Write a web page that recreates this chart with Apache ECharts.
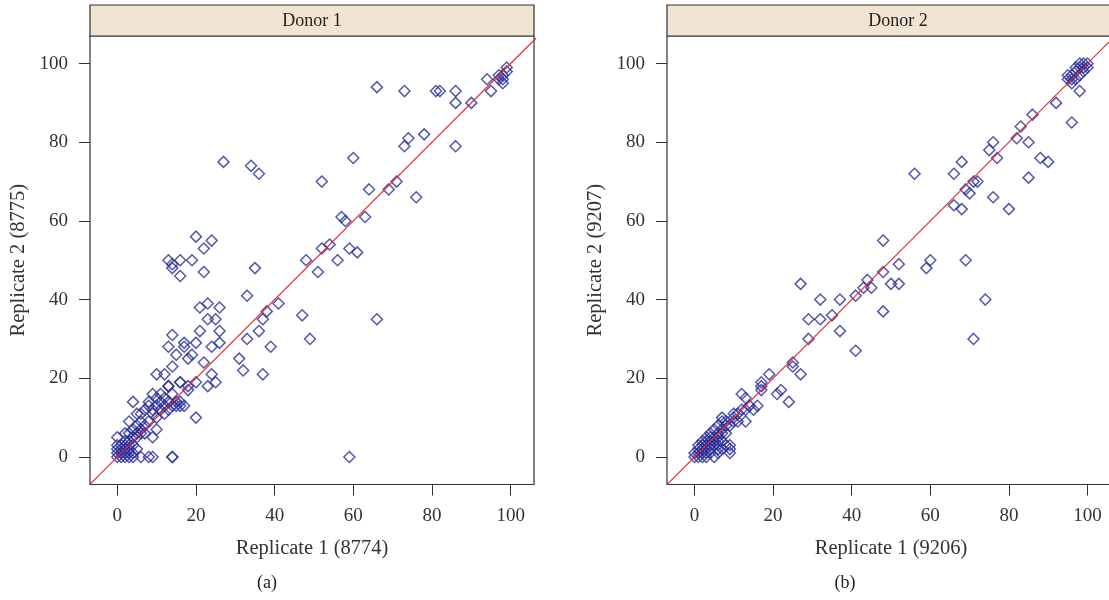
<!DOCTYPE html>
<html>
<head>
<meta charset="utf-8">
<script src="https://cdn.jsdelivr.net/npm/echarts@6/dist/echarts.min.js"></script>
<style>
  html, body { margin: 0; padding: 0; background: #fff; }
  #chart { width: 1109px; height: 600px; }
</style>
</head>
<body>
<div id="chart"></div>
<script>
// panel titles / axis names
const panelTitles = ['Donor 1', 'Donor 2']
const xNames = ['Replicate 1 (8774)', 'Replicate 1 (9206)']
const yNames = ['Replicate 2 (8775)', 'Replicate 2 (9207)']
const subLabels = ['(a)', '(b)']
const tickValues = [0, 20, 40, 60, 80, 100]

// Donor 1: [replicate 1, replicate 2]
const donor1 = [
  [27, 75], [34, 74], [36, 72], [20, 56], [24, 55], [22, 53], [13, 50], [16, 50], [19, 50], [48, 50],
  [14, 49], [14, 48], [16, 46], [22, 47], [35, 48], [33, 41], [41, 39], [38, 37], [37, 35], [36, 32],
  [33, 30], [39, 28], [31, 25], [32, 22], [37, 21], [47, 36], [49, 30], [21, 38], [23, 39], [26, 38],
  [23, 35], [25, 35], [21, 32], [26, 32], [14, 31], [17, 29], [17, 28], [20, 29], [13, 28], [24, 28],
  [26, 29], [15, 26], [19, 26], [18, 25], [22, 24], [14, 23], [10, 21], [12, 21], [24, 21], [25, 19],
  [23, 18], [16, 19], [18, 18], [20, 19], [13, 18], [4, 14], [20, 10],
  [66, 94], [73, 93], [81, 93], [82, 93], [86, 93], [86, 90], [90, 90], [94, 96], [95, 93], [97, 96],
  [98, 95], [98, 97], [99, 98], [99, 99], [97, 97], [98, 96], [74, 81], [73, 79], [78, 82], [86, 79],
  [60, 76], [52, 70], [64, 68], [69, 68], [71, 70], [76, 66], [57, 61], [58, 60], [63, 61], [52, 53],
  [54, 54], [59, 53], [61, 52], [56, 50], [51, 47], [66, 35], [59, 0],
  [0, 0], [0, 1], [1, 0], [1, 1], [0, 2], [1, 2], [2, 1], [2, 2], [0, 3], [1, 3], [2, 3], [3, 2],
  [3, 3], [0, 5], [2, 4], [3, 4], [4, 3], [4, 5], [2, 6], [3, 6], [4, 7], [5, 6], [5, 8], [6, 6],
  [6, 7], [3, 9], [5, 5], [7, 6], [7, 8], [8, 9], [6, 9], [2, 0], [3, 0], [4, 0], [6, 0], [8, 0],
  [9, 0], [14, 0], [14, 0], [9, 5], [10, 7], [10, 10], [9, 11], [6, 11], [5, 11], [7, 12], [8, 13],
  [9, 12], [10, 13], [11, 14], [12, 13], [13, 14], [14, 13], [15, 13], [16, 13], [17, 13], [11, 12],
  [12, 11], [13, 12], [9, 16], [11, 16], [13, 18], [16, 19], [18, 17], [8, 14], [10, 15], [12, 15],
  [14, 16], [15, 14], [16, 14], [5, 2], [3, 1], [4, 1]
]

// Donor 2: [replicate 1, replicate 2]
const donor2 = [
  [27, 44], [32, 40], [37, 40], [29, 35], [32, 35], [35, 36], [37, 32], [29, 30], [41, 27], [41, 41],
  [43, 43], [44, 45], [45, 43], [25, 24], [25, 23], [27, 21], [19, 21], [17, 19], [17, 17], [22, 17],
  [21, 16], [24, 14], [12, 16], [16, 13], [13, 9],
  [95, 96], [96, 97], [97, 98], [98, 99], [99, 100], [100, 99], [96, 95], [97, 96], [98, 97], [99, 98],
  [98, 100], [99, 99], [96, 96], [97, 99], [95, 97], [100, 100], [98, 93], [92, 90], [96, 85], [86, 87],
  [83, 84], [82, 81], [85, 80], [76, 80], [75, 78], [77, 76], [88, 76], [90, 75], [85, 71], [68, 75],
  [66, 72], [56, 72], [71, 70], [72, 70], [69, 68], [70, 67], [76, 66], [66, 64], [68, 63], [80, 63],
  [48, 55], [60, 50], [69, 50], [59, 48], [52, 49], [48, 47], [50, 44], [52, 44], [48, 37], [74, 40],
  [71, 30],
  [0, 0], [0, 1], [1, 0], [1, 1], [1, 2], [2, 1], [2, 2], [2, 3], [3, 2], [3, 3], [3, 4], [4, 3],
  [4, 4], [2, 0], [3, 1], [4, 2], [5, 3], [5, 5], [4, 5], [5, 4], [6, 5], [6, 6], [5, 7], [6, 8],
  [7, 6], [7, 7], [7, 9], [8, 8], [8, 6], [6, 3], [7, 4], [8, 3], [9, 3], [9, 2], [9, 1], [5, 0],
  [3, 0], [4, 1], [2, 4], [1, 3], [6, 4], [7, 10], [8, 9], [10, 9], [11, 9], [10, 10], [11, 11],
  [12, 12], [13, 12], [13, 15], [15, 12], [14, 13], [17, 18], [10, 11], [9, 8], [6, 1], [7, 2],
  [4, 6], [3, 5], [6, 2]
]

// y = x reference line, clipped to the panel
const identityLine = [[-10, -10], [110, 110]]

const FONT = 'Liberation Serif'
const INK = '#333'
const POINT = '#2b2f99'

const grids = [
  { left: 90, top: 36, width: 444, height: 448.5 },
  { left: 667, top: 36, width: 448, height: 448.5 },
]
const xRanges = [[-6.93, 105.93], [-7, 107]]
const yRange = [-7, 107]
const stripTextX = [312, 898]

function axisCommon(i) {
  return {
    type: 'value',
    gridIndex: i,
    axisLine: { show: false, onZero: false },
    axisTick: { show: true, length: 11, customValues: tickValues, lineStyle: { color: INK, width: 1 } },
    axisLabel: { customValues: tickValues, margin: 22, fontFamily: FONT, fontSize: 19, color: INK },
    splitLine: { show: false },
    nameLocation: 'middle',
    nameTextStyle: { fontFamily: FONT, fontSize: 20.5, color: INK },
  }
}

const option = {
  animation: false,
  backgroundColor: '#fff',
  grid: grids.map(g => Object.assign({
    show: true, borderColor: INK, borderWidth: 1.2, backgroundColor: '#fff',
    outerBoundsMode: 'none', containLabel: false,
  }, g)),
  xAxis: [0, 1].map(i => Object.assign(axisCommon(i), {
    min: xRanges[i][0], max: xRanges[i][1], name: xNames[i], nameGap: 54,
  })),
  yAxis: [0, 1].map(i => Object.assign(axisCommon(i), {
    min: yRange[0], max: yRange[1], name: yNames[i], nameGap: 61,
  })),
  series: [donor1, donor2].flatMap((pts, i) => [
    {
      type: 'scatter', xAxisIndex: i, yAxisIndex: i, data: pts,
      symbol: 'diamond', symbolSize: 11,
      itemStyle: { color: 'rgba(0,0,0,0)', borderColor: POINT, borderWidth: 1.5 },
      emphasis: { disabled: true },
    },
    {
      type: 'line', xAxisIndex: i, yAxisIndex: i, data: identityLine,
      showSymbol: false, clip: true, z: 5,
      lineStyle: { color: '#e8252a', width: 1.2 },
    },
  ]),
  graphic: grids.flatMap((g, i) => [
    {
      type: 'rect', z: 10,
      shape: { x: g.left, y: 5, width: g.width, height: 31 },
      style: { fill: '#f2e4d3', stroke: INK, lineWidth: 1.2 },
    },
    {
      type: 'text', z: 11, x: stripTextX[i], y: 21,
      style: { text: panelTitles[i], font: '18px "Liberation Serif"', fill: '#222', align: 'center', verticalAlign: 'middle' },
    },
    {
      type: 'text', z: 11, x: i === 0 ? 267 : 845, y: 583,
      style: { text: subLabels[i], font: '18px "Liberation Serif"', fill: '#222', align: 'center', verticalAlign: 'middle' },
    },
  ]),
}

const chart = echarts.init(document.getElementById('chart'))
chart.setOption(option)
</script>
</body>
</html>
